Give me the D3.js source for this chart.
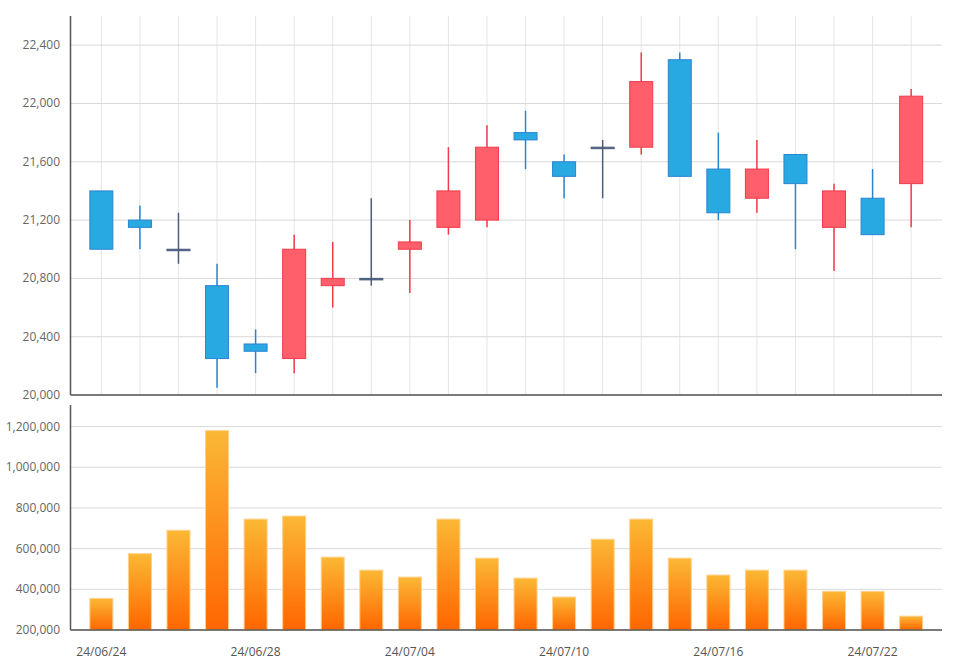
<!DOCTYPE html>
<html><head><meta charset="utf-8">
<script src="https://cdn.jsdelivr.net/npm/d3@7"></script>
<style>body{margin:0;background:#fff}svg{display:block;font-family:"Open Sans",sans-serif}</style>
</head><body><svg id="c" width="960" height="662"></svg>
<script>
const dates=["24/06/24","24/06/25","24/06/26","24/06/27","24/06/28","24/07/01","24/07/02","24/07/03","24/07/04","24/07/05","24/07/08","24/07/09","24/07/10","24/07/11","24/07/12","24/07/15","24/07/16","24/07/17","24/07/18","24/07/19","24/07/22","24/07/23"];
const open =[21400,21200,21000,20750,20350,20250,20750,20800,21000,21150,21200,21800,21600,21700,21700,22300,21550,21350,21650,21150,21350,21450];
const high =[21400,21300,21250,20900,20450,21100,21050,21350,21200,21700,21850,21950,21650,21750,22350,22350,21800,21750,21650,21450,21550,22100];
const low  =[21000,21000,20900,20050,20150,20150,20600,20750,20700,21100,21150,21550,21350,21350,21650,21500,21200,21250,21000,20850,21100,21150];
const close=[21000,21150,21000,20250,20300,21000,20800,20800,21050,21400,21700,21750,21500,21700,22150,21500,21250,21550,21450,21400,21100,22050];
const volume=[355000,575000,690000,1180000,745000,760000,558000,494000,460000,745000,553000,455000,362000,646000,745000,553000,470000,494000,494000,390000,390000,268000];
const priceTicks=[20000,20400,20800,21200,21600,22000,22400];
const volTicks=[200000,400000,600000,800000,1000000,1200000];
const labelDates=["24/06/24","24/06/28","24/07/04","24/07/10","24/07/16","24/07/22"];

const svg=d3.select("#c");
const L=70.5,R=942;
const x=d3.scalePoint().domain(dates).range([L,R]).padding(0.8);
const yP=d3.scaleLinear().domain([20000,22600]).range([395,16]);
const yV=d3.scaleLinear().domain([200000,1306000]).range([630,405]);
const fmt=d3.format(",");
const bw=23;

// gradient
const g=svg.append("defs").append("linearGradient").attr("id","vg").attr("x1",0).attr("y1",0).attr("x2",0).attr("y2",1);
g.append("stop").attr("offset","0%").attr("stop-color","#fbb835");
g.append("stop").attr("offset","100%").attr("stop-color","#ff6600");

// price grid
svg.append("g").selectAll("line").data(dates).join("line")
 .attr("x1",d=>x(d)).attr("x2",d=>x(d)).attr("y1",16).attr("y2",395).attr("stroke","#e6e6e6");
svg.append("g").selectAll("line").data(priceTicks).join("line")
 .attr("x1",L).attr("x2",R).attr("y1",d=>yP(d)).attr("y2",d=>yP(d)).attr("stroke","#d9d9d9");
svg.append("g").selectAll("text").data(priceTicks).join("text")
 .attr("x",60).attr("y",d=>yP(d)+4).attr("text-anchor","end").attr("font-size",12).attr("fill","#666").text(fmt);

// vol grid
svg.append("g").selectAll("line").data(volTicks).join("line")
 .attr("x1",L).attr("x2",R).attr("y1",d=>yV(d)).attr("y2",d=>yV(d)).attr("stroke","#d9d9d9");
svg.append("g").selectAll("text").data(volTicks).join("text")
 .attr("x",60).attr("y",d=>yV(d)+4).attr("text-anchor","end").attr("font-size",12).attr("fill","#666").text(fmt);

// candles
const data=dates.map((d,i)=>({d,o:open[i],h:high[i],l:low[i],c:close[i],v:volume[i]}));
const col=d=>d.c>d.o?"#ff5f6b":d.c<d.o?"#29a9e1":"#4a5d7e";
const stk=d=>d.c>d.o?"#f23a48":d.c<d.o?"#2a84d0":"#4a5d7e";
const cg=svg.append("g");
cg.selectAll("line").data(data).join("line")
 .attr("x1",d=>x(d.d)).attr("x2",d=>x(d.d)).attr("y1",d=>yP(d.h)).attr("y2",d=>yP(d.l))
 .attr("stroke",stk).attr("stroke-width",1.5);
cg.selectAll("rect").data(data).join("rect")
 .attr("x",d=>x(d.d)-bw/2).attr("width",bw)
 .attr("y",d=>yP(Math.max(d.o,d.c))).attr("height",d=>Math.max(1.5,Math.abs(yP(d.o)-yP(d.c))))
 .attr("fill",col).attr("stroke",stk).attr("stroke-width",1);

// volume bars
svg.append("g").selectAll("rect").data(data).join("rect")
 .attr("x",d=>x(d.d)-bw/2).attr("width",bw).attr("y",d=>yV(d.v)).attr("height",d=>630-yV(d.v))
 .attr("fill","url(#vg)").attr("stroke","#ffd08a").attr("stroke-width",1);

// axes lines
const ax="#555";
svg.append("line").attr("x1",L).attr("x2",L).attr("y1",16).attr("y2",395).attr("stroke",ax).attr("stroke-width",1.5);
svg.append("line").attr("x1",L).attr("x2",R).attr("y1",395).attr("y2",395).attr("stroke",ax).attr("stroke-width",1.5);
svg.append("line").attr("x1",L).attr("x2",L).attr("y1",405).attr("y2",630).attr("stroke",ax).attr("stroke-width",1.5);
svg.append("line").attr("x1",L).attr("x2",R).attr("y1",630).attr("y2",630).attr("stroke",ax).attr("stroke-width",1.5);

svg.append("g").selectAll("text").data(labelDates).join("text")
 .attr("x",d=>x(d)).attr("y",656).attr("text-anchor","middle").attr("font-size",12).attr("fill","#555").text(d=>d);
</script></body></html>
